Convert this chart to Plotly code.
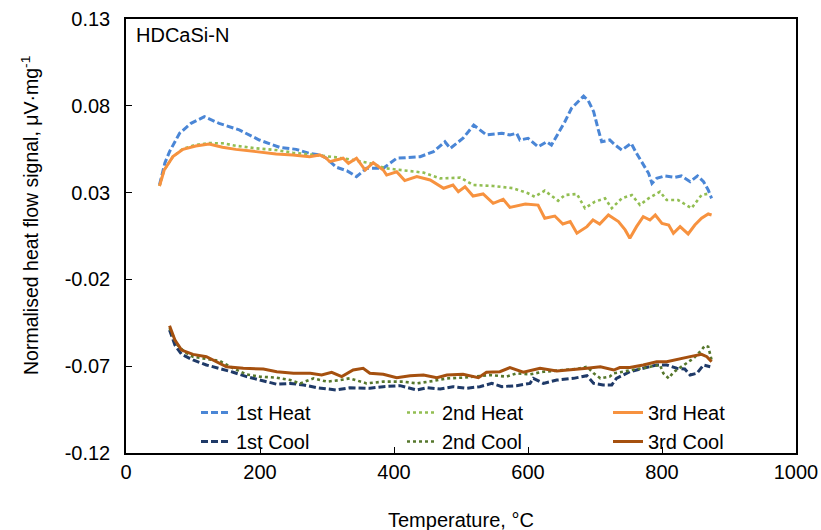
import plotly.graph_objects as go

# ---------------- data ----------------
heat1_x = [50, 58, 65, 80, 97, 117, 139, 169, 199, 229, 254, 274, 290, 299, 314, 330, 344, 359, 384, 404,
           439, 459, 476, 484, 503, 519, 538, 561, 573, 583, 588, 600, 615, 628, 635, 645, 655, 665, 673, 683,
           690, 698, 705, 710, 722, 730, 740, 754, 762, 772, 780, 785, 792, 804, 819, 829, 842, 853, 862, 869, 874]
heat1_y = [0.0344, 0.047, 0.0536, 0.0642, 0.0699, 0.0737, 0.0699, 0.0661, 0.0603, 0.0561, 0.0549, 0.0526, 0.0517,
           0.0498, 0.0446, 0.0425, 0.0392, 0.044, 0.044, 0.0498, 0.0507, 0.0536, 0.0593, 0.0555, 0.0613, 0.0689,
           0.0632, 0.0642, 0.0632, 0.0642, 0.0603, 0.0613, 0.0564, 0.0593, 0.0574, 0.0642, 0.0708, 0.0786, 0.0818,
           0.0856, 0.0829, 0.0766, 0.0661, 0.0593, 0.0603, 0.0574, 0.0545, 0.0584, 0.0526, 0.0459, 0.0411, 0.0353,
           0.0382, 0.0396, 0.0388, 0.0396, 0.0363, 0.0396, 0.0363, 0.0315, 0.0267]

heat2_x = [50, 57, 70, 85, 104, 124, 144, 164, 194, 224, 249, 274, 290, 314, 339, 364, 388, 419, 444, 469,
           499, 518, 548, 578, 600, 610, 625, 645, 655, 673, 685, 700, 715, 725, 740, 755, 767, 780, 797, 807,
           824, 844, 859, 872]
heat2_y = [0.0338, 0.043, 0.0507, 0.0552, 0.0575, 0.0585, 0.0584, 0.057, 0.0555, 0.0545, 0.053, 0.052, 0.0511,
           0.0503, 0.0488, 0.0469, 0.044, 0.0426, 0.0415, 0.0382, 0.0386, 0.0344, 0.0338, 0.0325, 0.0296, 0.0276,
           0.0311, 0.0253, 0.0286, 0.0292, 0.021, 0.0248, 0.0267, 0.021, 0.0267, 0.0286, 0.0229, 0.0267, 0.0305,
           0.0257, 0.0257, 0.021, 0.0286, 0.0296]

heat3_x = [50, 57, 70, 85, 104, 124, 144, 164, 194, 224, 249, 274, 289, 299, 304, 324, 332, 344, 357, 369,
           384, 389, 404, 416, 434, 454, 474, 488, 496, 506, 518, 533, 548, 563, 573, 588, 596, 615, 625, 640,
           652, 663, 673, 688, 697, 707, 720, 735, 745, 752, 762, 772, 782, 790, 800, 810, 817, 827, 839, 849,
           859, 869, 874]
heat3_y = [0.0338, 0.043, 0.0507, 0.0549, 0.0568, 0.058, 0.0561, 0.0549, 0.0536, 0.0522, 0.0517, 0.0507, 0.0517,
           0.0498, 0.0478, 0.0498, 0.0469, 0.0498, 0.043, 0.0472, 0.043, 0.0401, 0.042, 0.0369, 0.0392, 0.0373,
           0.0325, 0.0344, 0.0305, 0.0334, 0.028, 0.0292, 0.0238, 0.0261, 0.0215, 0.0228, 0.0234, 0.0228, 0.0152,
           0.0165, 0.0119, 0.0133, 0.0066, 0.0104, 0.0142, 0.0119, 0.0171, 0.0133, 0.0085, 0.0037, 0.0104, 0.0161,
           0.0142, 0.0171, 0.0123, 0.0113, 0.0066, 0.0104, 0.0062, 0.0113, 0.0152, 0.0177, 0.0171]

cool1_x = [65, 73, 83, 100, 120, 140, 160, 180, 200, 225, 245, 265, 285, 314, 334, 364, 384, 409, 434, 449,
           469, 488, 508, 528, 546, 561, 583, 603, 608, 623, 643, 668, 688, 698, 712, 725, 732, 752, 772, 792,
           807, 822, 834, 842, 852, 862, 872]
cool1_y = [-0.0491, -0.0578, -0.0632, -0.0664, -0.0693, -0.0712, -0.0735, -0.076, -0.078, -0.0804, -0.0799,
           -0.0808, -0.0824, -0.0837, -0.0824, -0.0827, -0.0818, -0.0812, -0.0837, -0.0824, -0.0831, -0.0818,
           -0.0827, -0.0818, -0.0799, -0.0818, -0.0812, -0.0799, -0.077, -0.0799, -0.078, -0.077, -0.0755,
           -0.0799, -0.0808, -0.0808, -0.077, -0.0732, -0.0712, -0.0693, -0.0693, -0.0712, -0.0716, -0.0751,
           -0.0741, -0.0693, -0.0703]

cool2_x = [65, 76, 88, 100, 115, 140, 160, 180, 200, 225, 245, 260, 280, 300, 319, 334, 359, 384, 414, 434,
           459, 479, 503, 518, 543, 568, 583, 603, 623, 653, 673, 688, 698, 708, 722, 728, 742, 762, 782, 797,
           802, 810, 817, 832, 847, 859, 864, 869, 874]
cool2_y = [-0.048, -0.0575, -0.062, -0.0645, -0.0655, -0.067, -0.0712, -0.0747, -0.076, -0.0766, -0.078,
           -0.0799, -0.077, -0.0789, -0.078, -0.077, -0.0799, -0.0789, -0.0789, -0.0799, -0.0785, -0.077,
           -0.0766, -0.076, -0.0751, -0.076, -0.0741, -0.0747, -0.0732, -0.0722, -0.0716, -0.0703, -0.0741,
           -0.077, -0.076, -0.0741, -0.0732, -0.0716, -0.0703, -0.0693, -0.0741, -0.077, -0.0735, -0.0693,
           -0.0655, -0.0607, -0.0582, -0.0588, -0.0664]

cool3_x = [65, 73, 83, 100, 120, 135, 150, 175, 205, 225, 250, 275, 292, 307, 322, 339, 354, 364, 384, 404,
           424, 444, 464, 479, 503, 526, 538, 558, 573, 593, 618, 643, 663, 688, 708, 728, 737, 752, 772, 792,
           807, 827, 842, 859, 867, 874]
cool3_y = [-0.0467, -0.0549, -0.0607, -0.0632, -0.0645, -0.0674, -0.0703, -0.0712, -0.0716, -0.0732, -0.0741,
           -0.0741, -0.0751, -0.0735, -0.076, -0.0722, -0.0712, -0.0741, -0.0747, -0.0766, -0.0755, -0.0751,
           -0.0766, -0.0751, -0.0747, -0.0766, -0.0735, -0.0732, -0.0708, -0.0735, -0.0712, -0.0728, -0.0722,
           -0.0712, -0.0703, -0.0722, -0.0708, -0.0708, -0.0693, -0.0674, -0.0674, -0.0655, -0.0645, -0.0632,
           -0.0645, -0.0674]

series_names = ["1st Heat", "2nd Heat", "3rd Heat", "1st Cool", "2nd Cool", "3rd Cool"]

x_tickvals = [0, 200, 400, 600, 800, 1000]
y_tickvals = [-0.12, -0.07, -0.02, 0.03, 0.08, 0.13]
y_ticktext = ["-0.12", "-0.07", "-0.02", "0.03", "0.08", "0.13"]

# ---------------- styles ----------------
FONT = "Arial, Liberation Sans, sans-serif"
styles = [
    dict(color="#4A86D6", width=3, dash="7px,3px"),
    dict(color="#92BE52", width=2.6, dash="dot"),
    dict(color="#F7923F", width=3, dash="solid"),
    dict(color="#1F3A68", width=3, dash="7px,3px"),
    dict(color="#56772C", width=2.6, dash="dot"),
    dict(color="#A5500F", width=3, dash="solid"),
]
data = [(heat1_x, heat1_y), (heat2_x, heat2_y), (heat3_x, heat3_y),
        (cool1_x, cool1_y), (cool2_x, cool2_y), (cool3_x, cool3_y)]

fig = go.Figure()
for (xs, ys), name, st in zip(data, series_names, styles):
    fig.add_trace(go.Scatter(x=xs, y=ys, mode="lines", name=name, line=st))

W, H = 821, 530
L, R, T, B = 126, 25, 19, 77
pw, ph = W - L - R, H - T - B

fig.update_layout(
    width=W, height=H,
    margin=dict(l=L, r=R, t=T, b=B, pad=0, autoexpand=False),
    paper_bgcolor="white", plot_bgcolor="white",
    font=dict(family=FONT, size=20, color="black"),
    showlegend=True,
    legend=dict(orientation="h", x=(196 - L) / pw, xanchor="left",
                y=(H - B - 393) / ph, yanchor="top",
                entrywidth=161, entrywidthmode="pixels",
                bgcolor="rgba(0,0,0,0)", font=dict(size=20, family=FONT),
                traceorder="normal"),
    xaxis=dict(range=[0, 1000], tickvals=x_tickvals, ticks="inside", ticklen=6,
               tickcolor="black", showline=True, linecolor="black", linewidth=1.5,
               mirror=True, showgrid=False, zeroline=False, automargin=False,
               tickfont=dict(size=20, family=FONT)),
    yaxis=dict(range=[-0.12, 0.1300001], tickvals=y_tickvals, ticktext=y_ticktext,
               ticks="inside", ticklen=6, tickcolor="black", showline=True,
               linecolor="black", linewidth=1.5, mirror=True, showgrid=False,
               zeroline=False, automargin=False, tickfont=dict(size=20, family=FONT),
               ticklabelstandoff=10),
    annotations=[
        dict(text="HDCaSi-N", xref="paper", yref="paper", x=(134 - L) / pw,
             y=(H - B - 35) / ph, xanchor="left", yanchor="middle", showarrow=False,
             font=dict(size=20, family=FONT)),
        dict(text="Normalised heat flow signal, μV·mg<sup>-1</sup>", xref="paper", yref="paper",
             x=(30 - L) / pw, y=(H - B - 216) / ph, xanchor="center", yanchor="middle",
             textangle=-90, showarrow=False, font=dict(size=19.5, family=FONT)),
        dict(text="Temperature, °C", xref="paper", yref="paper", x=0.5,
             y=(H - B - 520) / ph, xanchor="center", yanchor="middle", showarrow=False,
             font=dict(size=20, family=FONT)),
    ],
)

fig.write_html("out.html")
